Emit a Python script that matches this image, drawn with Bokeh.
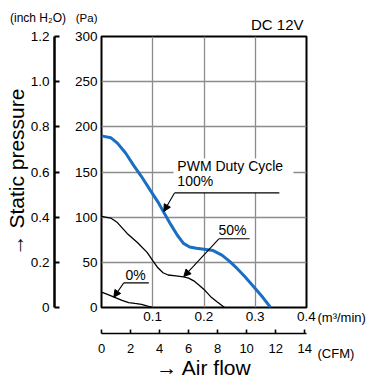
from bokeh.plotting import figure
from bokeh.models import Range1d, LinearAxis, FixedTicker, Label, Arrow, NormalHead
from bokeh.embed import file_html
from bokeh.resources import INLINE

# ---------------- data ----------------
flow_100 = [0, 0.018, 0.031, 0.047, 0.063, 0.078, 0.095, 0.11, 0.122, 0.135, 0.148, 0.16,
            0.172, 0.185, 0.2, 0.218, 0.235, 0.25, 0.265, 0.28, 0.297, 0.315, 0.33]
pres_100 = [190, 188, 182, 171, 157, 145, 130, 117, 105, 92, 80, 71,
            67, 65.5, 64.5, 63, 58, 51, 43, 34, 23, 11, 0]

flow_50 = [0, 0.018, 0.031, 0.05, 0.07, 0.089, 0.1, 0.11, 0.12, 0.13, 0.145, 0.16,
           0.17, 0.18, 0.19, 0.2, 0.213, 0.226, 0.24]
pres_50 = [101, 99, 94, 82, 72, 61, 52, 44, 38.5, 36, 35, 34,
           32.5, 29.5, 25, 20, 12, 6, 0]

flow_0 = [0, 0.014, 0.027, 0.04, 0.053, 0.065, 0.078, 0.09, 0.1]
pres_0 = [17, 14, 11, 8, 5.5, 4.5, 3.5, 1.5, 0]

x_ticks = [0.1, 0.2, 0.3, 0.4]
x_labels = ["0.1", "0.2", "0.3", "0.4"]
pa_ticks = [0, 50, 100, 150, 200, 250, 300]
pa_labels = ["0", "50", "100", "150", "200", "250", "300"]
inch_ticks = [0, 0.2, 0.4, 0.6, 0.8, 1.0, 1.2]
inch_labels = ["0", "0.2", "0.4", "0.6", "0.8", "1.0", "1.2"]
cfm_ticks = [0, 2, 4, 6, 8, 10, 12, 14]
cfm_labels = ["0", "2", "4", "6", "8", "10", "12", "14"]
M3MIN_PER_CFM = 0.0283168

# annotation anchors (data units); text anchors are the vertical middle of the text
ann_100 = dict(line=(0.1424, 0.347, 126.8), tip=(0.1216, 106.3), text=(0.148, 139.7))
ann_50 = dict(line=(0.229, 0.289, 76.1), tip=(0.1606, 34.3), text=(0.2283, 86.3))
ann_0 = dict(line=(0.0435, 0.0923, 27.3), tip=(0.024, 11.4), text=(0.0468, 36.5))
pwm_text = (0.148, 156.4)
mask_box = (0.1405, 0.3746, 127, 165)

FONT = "Liberation Sans"
NUM_SIZE = "13.5px"
BLUE = "#1a6fc2"
GRID = "#8c8c8c"

p = figure(width=377, height=381, title=None,
           x_range=Range1d(0, 0.4), y_range=Range1d(0, 300),
           extra_x_ranges={"cfm": Range1d(0, 0.4 / M3MIN_PER_CFM)},
           extra_y_ranges={"inch": Range1d(0, 1.2)},
           output_backend="svg", toolbar_location=None,
           min_border_left=101, min_border_right=71,
           min_border_top=36, min_border_bottom=74)
p.background_fill_color = "white"
p.border_fill_color = "white"
p.outline_line_color = "black"
p.outline_line_width = 2

# grid
p.xgrid.ticker = FixedTicker(ticks=[0.1, 0.2, 0.3])
p.ygrid.ticker = FixedTicker(ticks=[50, 100, 150, 200, 250])
p.grid.grid_line_color = GRID
p.grid.grid_line_width = 1.3

def style_axis(ax, size=NUM_SIZE):
    ax.major_label_text_font = FONT
    ax.major_label_text_font_size = size
    ax.major_label_text_color = "black"
    ax.minor_tick_line_color = None
    ax.axis_line_color = "black"
    ax.major_tick_line_color = "black"

# m3/min axis (inner bottom)
xa = p.xaxis[0]
xa.ticker = FixedTicker(ticks=x_ticks)
xa.major_label_overrides = dict(zip(x_ticks, x_labels))
style_axis(xa)
xa.axis_line_color = None
xa.major_tick_line_color = None
xa.major_tick_in = 0
xa.major_tick_out = 0
xa.major_label_standoff = 4
xa.axis_label = "\u00a0"
xa.axis_label_text_font_size = "1px"
xa.axis_label_standoff = 6

# Pa axis (inner left)
ya = p.yaxis[0]
ya.ticker = FixedTicker(ticks=pa_ticks)
ya.major_label_overrides = dict(zip(pa_ticks, pa_labels))
style_axis(ya)
ya.axis_line_color = None
ya.major_tick_line_color = None
ya.major_tick_in = 0
ya.major_tick_out = 0
ya.major_label_standoff = 4
ya.axis_label = "\u00a0"
ya.axis_label_text_font_size = "1px"
ya.axis_label_standoff = 13

# inch H2O axis (outer left) with the "Static pressure" title
ia = LinearAxis(y_range_name="inch", ticker=FixedTicker(ticks=inch_ticks))
ia.major_label_overrides = dict(zip(inch_ticks, inch_labels))
style_axis(ia)
ia.axis_line_width = 2.5
ia.major_tick_line_width = 2
ia.major_tick_in = 5
ia.major_tick_out = 0
ia.major_label_standoff = 5
ia.axis_label = "\u2192 Static pressure"
ia.axis_label_text_font = FONT
ia.axis_label_text_font_size = "21px"
ia.axis_label_text_font_style = "normal"
ia.axis_label_text_color = "black"
ia.axis_label_standoff = 0
p.add_layout(ia, "left")

# CFM axis (outer bottom) with the "Air flow" title
ca = LinearAxis(x_range_name="cfm", ticker=FixedTicker(ticks=cfm_ticks))
ca.major_label_overrides = dict(zip(cfm_ticks, cfm_labels))
style_axis(ca, size="13px")
ca.axis_line_width = 1.6
ca.major_tick_line_width = 1.6
ca.major_tick_in = 4
ca.major_tick_out = 0
ca.major_label_standoff = 10
ca.axis_label = "\u2192 Air flow"
ca.axis_label_text_font = FONT
ca.axis_label_text_font_size = "21px"
ca.axis_label_text_font_style = "normal"
ca.axis_label_text_color = "black"
ca.axis_label_standoff = 0
p.add_layout(ca, "below")

# white mask behind PWM text
p.quad(left=[mask_box[0]], right=[mask_box[1]], bottom=[mask_box[2]], top=[mask_box[3]],
       fill_color="white", line_color=None)

# curves
p.line(flow_0, pres_0, line_color="black", line_width=1.3)
p.line(flow_50, pres_50, line_color="black", line_width=1.3)
p.line(flow_100, pres_100, line_color=BLUE, line_width=3)

# annotations inside the frame
for ann, txt in ((ann_100, "100%"), (ann_50, "50%"), (ann_0, "0%")):
    x0, x1, yl = ann["line"]
    p.segment(x0=[x0], y0=[yl], x1=[x1], y1=[yl], line_color="black", line_width=1.2)
    p.add_layout(Arrow(end=NormalHead(size=7, fill_color="black", line_color="black", line_width=1),
                       x_start=x0, y_start=yl, x_end=ann["tip"][0], y_end=ann["tip"][1],
                       line_color="black", line_width=1.1))
    p.add_layout(Label(x=ann["text"][0], y=ann["text"][1], text=txt, text_font=FONT,
                       text_font_size="14px", text_color="black", text_baseline="middle"))

p.add_layout(Label(x=pwm_text[0], y=pwm_text[1], text="PWM Duty Cycle", text_font=FONT,
                   text_font_size="14px", text_color="black", text_baseline="middle"))

# texts outside the frame: kept in side panels (not clipped to the frame)
def lab(side, x, y, text, dx, dy, size="14px", align="left", base="middle", **kw):
    p.add_layout(Label(x=x, y=y, text=text, x_offset=dx, y_offset=dy, text_font=FONT,
                       text_font_size=size, text_align=align, text_baseline=base,
                       text_color="black", **kw), side)

lab("above", 0.4, 300, "DC 12V", -3, 11.8, size="15px", align="right")
lab("above", 0, 300, "(inch H\u2082O)", -63.5, 19, size="12px", align="center")
lab("right", 0, 300, "(Pa)", -4, 19, size="11.5px", align="right")
lab("right", 0.4, 0, "(m\u00b3/min)\n(CFM)", 11, -27.75, size="13px", text_line_height=2.4)

open("out.html", "w").write(file_html(p, INLINE))
